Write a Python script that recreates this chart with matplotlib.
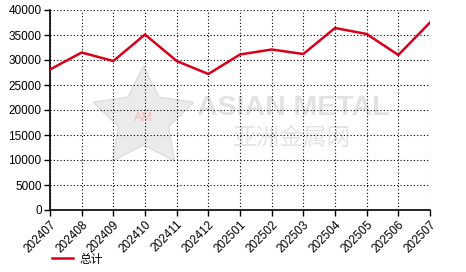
import matplotlib
matplotlib.use("Agg")
import matplotlib.pyplot as plt

months = ["202407", "202408", "202409", "202410", "202411", "202412", "202501",
          "202502", "202503", "202504", "202505", "202506", "202507"]
total = [28100, 31500, 29800, 35100, 29800, 27200, 31100,
         32100, 31200, 36400, 35200, 31000, 37500]
yticks = [0, 5000, 10000, 15000, 20000, 25000, 30000, 35000, 40000]

plt.rcParams['font.family'] = ['Liberation Sans', 'Noto Sans CJK SC', 'DejaVu Sans']

fig = plt.figure(figsize=(4.66, 2.72), dpi=100)
W, H = 466, 272
ax = fig.add_axes([50 / W, (H - 210) / H, 380 / W, 200 / H])

x = list(range(len(months)))
# watermark
ax.plot([0.245], [0.46], marker=(5, 1, 0), markersize=76, color="#ebebeb",
        markeredgecolor="#dedede", markeredgewidth=1,
        transform=ax.transAxes, zorder=0)
ax.text(0.245, 0.46, "AM", transform=ax.transAxes, fontsize=9,
        color="#f6b8b8", ha="center", va="center", zorder=0)
ax.text((197 - 50) / 380, (210 - 108) / 200, "ASIAN METAL", transform=ax.transAxes,
        fontsize=20.5, fontweight="bold", color="#e2e2e2", ha="left", va="center", zorder=0)
ax.text((233 - 50) / 380, (210 - 138) / 200, "亚洲金属网", transform=ax.transAxes,
        fontsize=17, color="#e4e4e4", ha="left", va="center", zorder=0,
        family=['Noto Sans CJK SC', 'DejaVu Sans'])

line, = ax.plot(x, total, color="#d9001b", linewidth=1.8, label="总计", zorder=3)

ax.set_xlim(0, len(months) - 1)
ax.set_ylim(0, 40000)
ax.set_yticks(yticks)
ax.set_yticklabels([str(v) for v in yticks], fontsize=8.5)
ax.set_xticks(x)
ax.set_xticklabels(months, rotation=45, ha="right", rotation_mode="anchor", fontsize=8.5)
ax.grid(True, color="black", linestyle=(0, (1, 2)), linewidth=0.8)
ax.spines['top'].set_visible(False)
ax.spines['right'].set_visible(False)
ax.spines['left'].set_linewidth(1.2)
ax.spines['bottom'].set_linewidth(1.2)
ax.tick_params(direction="out", length=4, width=1, pad=2)

fig.legend(handles=[line], labels=["总计"], loc="center left",
           bbox_to_anchor=(52 / W, (H - 259) / H), frameon=False,
           handlelength=1.8, handletextpad=0.5, borderpad=0, borderaxespad=0,
           prop={'family': ['Noto Sans CJK SC', 'DejaVu Sans'], 'size': 8.5})

fig.savefig("out.png", dpi=100)
